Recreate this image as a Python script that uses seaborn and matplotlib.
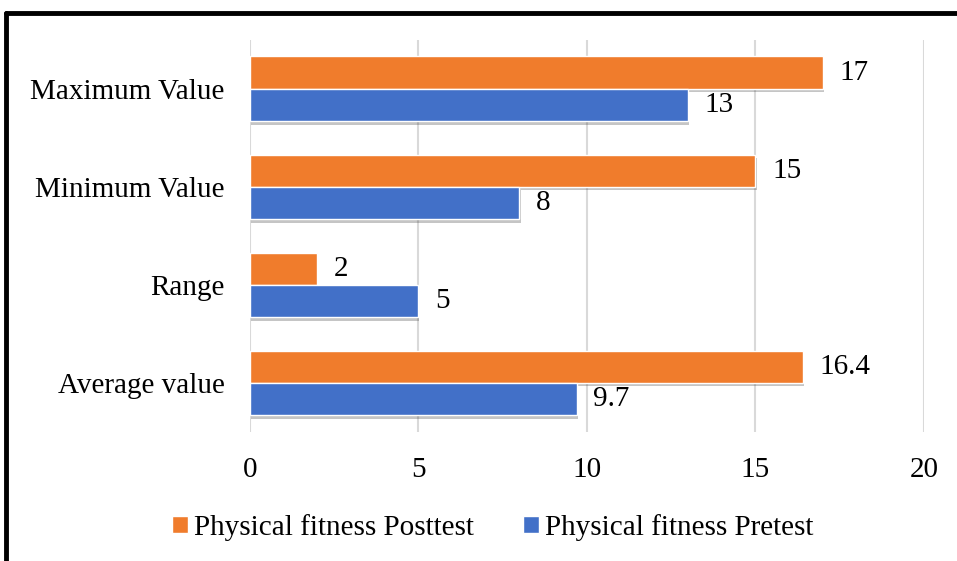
import matplotlib
matplotlib.use("Agg")
import matplotlib.pyplot as plt
import matplotlib.patheffects as pe
from matplotlib.lines import Line2D
import pandas as pd
import seaborn as sns

# data
categories = ["Maximum Value", "Minimum Value", "Range", "Average value"]
posttest = [17, 15, 2, 16.4]
pretest = [13, 8, 5, 9.7]
series = ["Physical fitness Posttest", "Physical fitness Pretest"]
colors = ["#F07C2C", "#4270C8"]

df = pd.DataFrame({
    "Category": categories * 2,
    "Value": posttest + pretest,
    "Series": [series[0]] * len(categories) + [series[1]] * len(categories),
})

sns.set_style("white")
plt.rcParams["font.family"] = ["Liberation Serif", "DejaVu Serif"]
plt.rcParams["text.color"] = "black"
plt.rcParams["xtick.color"] = "black"
plt.rcParams["ytick.color"] = "black"

fig = plt.figure(figsize=(9.57, 5.61), dpi=100)
ax = fig.add_axes([0.261, 0.23, 0.7045, 0.699])

sns.barplot(data=df, y="Category", x="Value", hue="Series", order=categories,
            hue_order=series, palette=colors, orient="h", width=0.66,
            saturation=1, ax=ax, legend=True)

# soft drop shadow under the bars
for p in ax.patches:
    p.set_path_effects([pe.SimplePatchShadow(offset=(0.8, -2.5), shadow_rgbFace="#404040", alpha=0.3),
                        pe.Normal()])

for cont, vals in zip(ax.containers, [posttest, pretest]):
    ax.bar_label(cont, labels=[f"{v:g}" for v in vals], padding=12, fontsize=21, color="black")

ax.set_xlim(0, 20)
ax.set_xticks([0, 5, 10, 15, 20])
ax.set_xlabel("")
ax.set_ylabel("")
ax.tick_params(axis="both", labelsize=21, length=0, labelcolor="black")
ax.tick_params(axis="x", pad=18)
ax.tick_params(axis="y", pad=18)
ax.xaxis.grid(True, color="#D9D9D9", linewidth=1.5)
ax.set_axisbelow(True)
for s in ax.spines.values():
    s.set_visible(False)

leg = ax.legend(loc="center", bbox_to_anchor=(0.515, 0.06), bbox_transform=fig.transFigure,
                ncol=2, frameon=False, fontsize=21, handlelength=0.55, handleheight=0.55,
                handletextpad=0.2, columnspacing=1.7)
for h in leg.legend_handles:
    h.set_path_effects([])

# frame lines at the top and left of the picture
fig.add_artist(Line2D([0.0065, 1.0], [0.977, 0.977], color="black", linewidth=3.5,
                      transform=fig.transFigure))
fig.add_artist(Line2D([0.0065, 0.0065], [0.0, 0.977], color="black", linewidth=3.5,
                      transform=fig.transFigure))

fig.savefig("out.png", dpi=100)
